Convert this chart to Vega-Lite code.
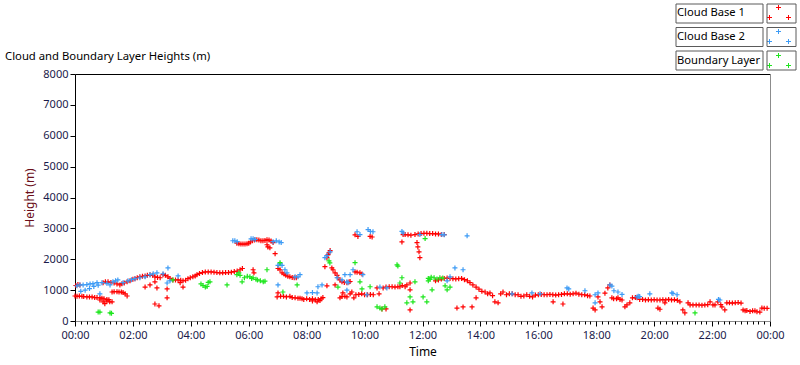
{
  "$schema": "https://vega.github.io/schema/vega-lite/v6.json",
  "width": 695,
  "height": 247,
  "autosize": {"type": "none"},
  "padding": {"left": 75, "top": 74, "right": 30, "bottom": 44},
  "background": "white",
  "title": {"text": "Cloud and Boundary Layer Heights (m)", "anchor": "start", "frame": "group", "dx": -70, "dy": 71, "offset": 12, "font": "Noto Sans", "fontSize": 11.3, "fontWeight": "normal", "color": "#000000"},
  "datasets": {
    "pts": [
      {"t":0.00,"h":810,"s":"Cloud Base 1"},{"t":0.07,"h":800,"s":"Cloud Base 1"},{"t":0.15,"h":810,"s":"Cloud Base 1"},{"t":0.24,"h":800,"s":"Cloud Base 1"},{"t":0.30,"h":790,"s":"Cloud Base 1"},{"t":0.41,"h":780,"s":"Cloud Base 1"},{"t":0.50,"h":780,"s":"Cloud Base 1"},{"t":0.59,"h":780,"s":"Cloud Base 1"},{"t":0.68,"h":760,"s":"Cloud Base 1"},{"t":0.76,"h":760,"s":"Cloud Base 1"},{"t":0.86,"h":750,"s":"Cloud Base 1"},{"t":0.93,"h":740,"s":"Cloud Base 1"},{"t":1.00,"h":720,"s":"Cloud Base 1"},{"t":1.10,"h":700,"s":"Cloud Base 1"},{"t":1.17,"h":690,"s":"Cloud Base 1"},{"t":0.86,"h":680,"s":"Cloud Base 1"},{"t":0.97,"h":620,"s":"Cloud Base 1"},{"t":1.03,"h":560,"s":"Cloud Base 1"},{"t":1.10,"h":650,"s":"Cloud Base 1"},{"t":1.20,"h":620,"s":"Cloud Base 1"},{"t":1.28,"h":620,"s":"Cloud Base 1"},
      {"t":0.03,"h":1150,"s":"Cloud Base 1"},{"t":0.10,"h":1180,"s":"Cloud Base 1"},{"t":0.17,"h":1170,"s":"Cloud Base 1"},
      {"t":1.28,"h":940,"s":"Cloud Base 1"},{"t":1.35,"h":950,"s":"Cloud Base 1"},{"t":1.45,"h":950,"s":"Cloud Base 1"},{"t":1.52,"h":940,"s":"Cloud Base 1"},{"t":1.60,"h":940,"s":"Cloud Base 1"},{"t":1.66,"h":920,"s":"Cloud Base 1"},{"t":1.73,"h":880,"s":"Cloud Base 1"},{"t":1.80,"h":810,"s":"Cloud Base 1"},
      {"t":0.97,"h":1240,"s":"Cloud Base 1"},{"t":1.05,"h":1270,"s":"Cloud Base 1"},{"t":1.14,"h":1270,"s":"Cloud Base 1"},{"t":1.24,"h":1250,"s":"Cloud Base 1"},{"t":1.35,"h":1230,"s":"Cloud Base 1"},{"t":1.45,"h":1200,"s":"Cloud Base 1"},{"t":1.55,"h":1170,"s":"Cloud Base 1"},{"t":1.62,"h":1210,"s":"Cloud Base 1"},{"t":1.70,"h":1230,"s":"Cloud Base 1"},{"t":1.80,"h":1270,"s":"Cloud Base 1"},{"t":1.90,"h":1300,"s":"Cloud Base 1"},{"t":2.00,"h":1350,"s":"Cloud Base 1"},{"t":2.07,"h":1370,"s":"Cloud Base 1"},{"t":2.15,"h":1400,"s":"Cloud Base 1"},{"t":2.24,"h":1430,"s":"Cloud Base 1"},{"t":2.33,"h":1450,"s":"Cloud Base 1"},{"t":2.42,"h":1460,"s":"Cloud Base 1"},{"t":2.50,"h":1480,"s":"Cloud Base 1"},{"t":2.59,"h":1500,"s":"Cloud Base 1"},{"t":2.68,"h":1480,"s":"Cloud Base 1"},{"t":2.76,"h":1430,"s":"Cloud Base 1"},{"t":2.85,"h":1410,"s":"Cloud Base 1"},{"t":2.94,"h":1400,"s":"Cloud Base 1"},
      {"t":2.42,"h":1100,"s":"Cloud Base 1"},{"t":2.59,"h":1170,"s":"Cloud Base 1"},{"t":2.76,"h":1270,"s":"Cloud Base 1"},{"t":2.83,"h":1070,"s":"Cloud Base 1"},{"t":2.76,"h":550,"s":"Cloud Base 1"},{"t":2.90,"h":490,"s":"Cloud Base 1"},{"t":3.18,"h":750,"s":"Cloud Base 1"},{"t":3.18,"h":1040,"s":"Cloud Base 1"},
      {"t":3.04,"h":1500,"s":"Cloud Base 1"},{"t":3.12,"h":1480,"s":"Cloud Base 1"},{"t":3.21,"h":1430,"s":"Cloud Base 1"},{"t":3.28,"h":1380,"s":"Cloud Base 1"},{"t":3.38,"h":1330,"s":"Cloud Base 1"},{"t":3.47,"h":1330,"s":"Cloud Base 1"},{"t":3.56,"h":1330,"s":"Cloud Base 1"},{"t":3.65,"h":1320,"s":"Cloud Base 1"},{"t":3.73,"h":1300,"s":"Cloud Base 1"},{"t":3.82,"h":1320,"s":"Cloud Base 1"},{"t":3.90,"h":1370,"s":"Cloud Base 1"},{"t":3.98,"h":1400,"s":"Cloud Base 1"},{"t":4.07,"h":1430,"s":"Cloud Base 1"},{"t":4.15,"h":1460,"s":"Cloud Base 1"},{"t":4.21,"h":1500,"s":"Cloud Base 1"},{"t":4.30,"h":1540,"s":"Cloud Base 1"},{"t":4.40,"h":1570,"s":"Cloud Base 1"},{"t":4.50,"h":1590,"s":"Cloud Base 1"},{"t":4.60,"h":1590,"s":"Cloud Base 1"},{"t":4.70,"h":1590,"s":"Cloud Base 1"},{"t":4.80,"h":1580,"s":"Cloud Base 1"},{"t":4.90,"h":1570,"s":"Cloud Base 1"},{"t":5.00,"h":1560,"s":"Cloud Base 1"},{"t":5.10,"h":1560,"s":"Cloud Base 1"},{"t":5.20,"h":1570,"s":"Cloud Base 1"},{"t":5.30,"h":1570,"s":"Cloud Base 1"},{"t":5.40,"h":1580,"s":"Cloud Base 1"},{"t":5.50,"h":1600,"s":"Cloud Base 1"},{"t":5.60,"h":1620,"s":"Cloud Base 1"},{"t":5.70,"h":1660,"s":"Cloud Base 1"},{"t":5.78,"h":1700,"s":"Cloud Base 1"},{"t":3.63,"h":1240,"s":"Cloud Base 1"},{"t":3.73,"h":1100,"s":"Cloud Base 1"},
      {"t":5.59,"h":2520,"s":"Cloud Base 1"},{"t":5.66,"h":2500,"s":"Cloud Base 1"},{"t":5.73,"h":2490,"s":"Cloud Base 1"},{"t":5.80,"h":2490,"s":"Cloud Base 1"},{"t":5.87,"h":2490,"s":"Cloud Base 1"},{"t":5.94,"h":2500,"s":"Cloud Base 1"},{"t":6.00,"h":2520,"s":"Cloud Base 1"},{"t":6.06,"h":2560,"s":"Cloud Base 1"},{"t":6.13,"h":2600,"s":"Cloud Base 1"},{"t":6.20,"h":2620,"s":"Cloud Base 1"},{"t":6.28,"h":2630,"s":"Cloud Base 1"},{"t":6.35,"h":2620,"s":"Cloud Base 1"},{"t":6.42,"h":2600,"s":"Cloud Base 1"},{"t":6.49,"h":2600,"s":"Cloud Base 1"},{"t":6.56,"h":2610,"s":"Cloud Base 1"},{"t":6.63,"h":2630,"s":"Cloud Base 1"},{"t":6.70,"h":2620,"s":"Cloud Base 1"},{"t":6.77,"h":2590,"s":"Cloud Base 1"},{"t":6.84,"h":2540,"s":"Cloud Base 1"},{"t":6.63,"h":2470,"s":"Cloud Base 1"},{"t":6.66,"h":2400,"s":"Cloud Base 1"},{"t":6.73,"h":2370,"s":"Cloud Base 1"},{"t":6.91,"h":2180,"s":"Cloud Base 1"},{"t":6.15,"h":1660,"s":"Cloud Base 1"},{"t":6.18,"h":1560,"s":"Cloud Base 1"},
      {"t":7.01,"h":1700,"s":"Cloud Base 1"},{"t":7.08,"h":1660,"s":"Cloud Base 1"},{"t":7.15,"h":1560,"s":"Cloud Base 1"},{"t":7.22,"h":1520,"s":"Cloud Base 1"},{"t":7.28,"h":1480,"s":"Cloud Base 1"},{"t":7.35,"h":1450,"s":"Cloud Base 1"},{"t":7.42,"h":1430,"s":"Cloud Base 1"},{"t":7.50,"h":1410,"s":"Cloud Base 1"},{"t":7.57,"h":1400,"s":"Cloud Base 1"},{"t":7.64,"h":1400,"s":"Cloud Base 1"},
      {"t":6.98,"h":780,"s":"Cloud Base 1"},{"t":7.01,"h":910,"s":"Cloud Base 1"},{"t":7.10,"h":800,"s":"Cloud Base 1"},{"t":7.20,"h":800,"s":"Cloud Base 1"},{"t":7.30,"h":780,"s":"Cloud Base 1"},{"t":7.42,"h":800,"s":"Cloud Base 1"},{"t":7.50,"h":760,"s":"Cloud Base 1"},{"t":7.60,"h":750,"s":"Cloud Base 1"},{"t":7.70,"h":740,"s":"Cloud Base 1"},{"t":7.77,"h":740,"s":"Cloud Base 1"},{"t":7.84,"h":720,"s":"Cloud Base 1"},{"t":7.90,"h":700,"s":"Cloud Base 1"},{"t":8.00,"h":720,"s":"Cloud Base 1"},{"t":8.10,"h":700,"s":"Cloud Base 1"},{"t":8.20,"h":720,"s":"Cloud Base 1"},{"t":8.30,"h":690,"s":"Cloud Base 1"},{"t":8.40,"h":700,"s":"Cloud Base 1"},{"t":8.50,"h":720,"s":"Cloud Base 1"},{"t":8.56,"h":760,"s":"Cloud Base 1"},{"t":8.20,"h":650,"s":"Cloud Base 1"},{"t":8.36,"h":620,"s":"Cloud Base 1"},{"t":8.46,"h":660,"s":"Cloud Base 1"},
      {"t":8.63,"h":1760,"s":"Cloud Base 1"},{"t":8.70,"h":2050,"s":"Cloud Base 1"},{"t":8.74,"h":2150,"s":"Cloud Base 1"},{"t":8.77,"h":2210,"s":"Cloud Base 1"},{"t":8.81,"h":2280,"s":"Cloud Base 1"},{"t":8.87,"h":1720,"s":"Cloud Base 1"},{"t":8.91,"h":1660,"s":"Cloud Base 1"},{"t":8.98,"h":1560,"s":"Cloud Base 1"},{"t":9.05,"h":1480,"s":"Cloud Base 1"},{"t":9.08,"h":1400,"s":"Cloud Base 1"},{"t":9.15,"h":1330,"s":"Cloud Base 1"},{"t":9.22,"h":1270,"s":"Cloud Base 1"},{"t":9.30,"h":1250,"s":"Cloud Base 1"},{"t":9.39,"h":1240,"s":"Cloud Base 1"},{"t":9.46,"h":1260,"s":"Cloud Base 1"},{"t":9.50,"h":1280,"s":"Cloud Base 1"},{"t":9.67,"h":1590,"s":"Cloud Base 1"},{"t":9.74,"h":1580,"s":"Cloud Base 1"},{"t":9.84,"h":1560,"s":"Cloud Base 1"},{"t":9.91,"h":1520,"s":"Cloud Base 1"},{"t":8.70,"h":1140,"s":"Cloud Base 1"},{"t":8.98,"h":1170,"s":"Cloud Base 1"},
      {"t":9.15,"h":750,"s":"Cloud Base 1"},{"t":9.22,"h":790,"s":"Cloud Base 1"},{"t":9.25,"h":910,"s":"Cloud Base 1"},{"t":9.32,"h":800,"s":"Cloud Base 1"},{"t":9.39,"h":780,"s":"Cloud Base 1"},{"t":9.50,"h":880,"s":"Cloud Base 1"},{"t":9.56,"h":940,"s":"Cloud Base 1"},{"t":9.63,"h":750,"s":"Cloud Base 1"},{"t":9.70,"h":850,"s":"Cloud Base 1"},{"t":9.80,"h":860,"s":"Cloud Base 1"},{"t":9.90,"h":880,"s":"Cloud Base 1"},{"t":10.00,"h":850,"s":"Cloud Base 1"},{"t":10.10,"h":850,"s":"Cloud Base 1"},{"t":10.20,"h":860,"s":"Cloud Base 1"},{"t":10.30,"h":850,"s":"Cloud Base 1"},{"t":10.43,"h":1070,"s":"Cloud Base 1"},{"t":10.50,"h":880,"s":"Cloud Base 1"},{"t":10.64,"h":1070,"s":"Cloud Base 1"},{"t":10.74,"h":1100,"s":"Cloud Base 1"},{"t":10.85,"h":1110,"s":"Cloud Base 1"},{"t":10.95,"h":1110,"s":"Cloud Base 1"},{"t":11.05,"h":1100,"s":"Cloud Base 1"},{"t":11.15,"h":1110,"s":"Cloud Base 1"},{"t":11.22,"h":1110,"s":"Cloud Base 1"},{"t":11.30,"h":1150,"s":"Cloud Base 1"},{"t":11.40,"h":1110,"s":"Cloud Base 1"},{"t":11.46,"h":1170,"s":"Cloud Base 1"},{"t":11.57,"h":1230,"s":"Cloud Base 1"},{"t":11.57,"h":1010,"s":"Cloud Base 1"},{"t":10.60,"h":390,"s":"Cloud Base 1"},{"t":10.74,"h":390,"s":"Cloud Base 1"},{"t":11.57,"h":360,"s":"Cloud Base 1"},
      {"t":9.67,"h":2790,"s":"Cloud Base 1"},{"t":9.77,"h":2740,"s":"Cloud Base 1"},{"t":10.19,"h":2740,"s":"Cloud Base 1"},{"t":10.26,"h":2720,"s":"Cloud Base 1"},
      {"t":11.29,"h":2560,"s":"Cloud Base 1"},{"t":11.33,"h":2800,"s":"Cloud Base 1"},{"t":11.40,"h":2800,"s":"Cloud Base 1"},{"t":11.50,"h":2790,"s":"Cloud Base 1"},{"t":11.60,"h":2780,"s":"Cloud Base 1"},{"t":11.74,"h":2800,"s":"Cloud Base 1"},{"t":11.85,"h":2820,"s":"Cloud Base 1"},{"t":11.95,"h":2830,"s":"Cloud Base 1"},{"t":12.05,"h":2840,"s":"Cloud Base 1"},{"t":12.15,"h":2840,"s":"Cloud Base 1"},{"t":12.25,"h":2830,"s":"Cloud Base 1"},{"t":12.35,"h":2830,"s":"Cloud Base 1"},{"t":12.45,"h":2820,"s":"Cloud Base 1"},{"t":12.55,"h":2820,"s":"Cloud Base 1"},{"t":12.65,"h":2800,"s":"Cloud Base 1"},{"t":12.75,"h":2800,"s":"Cloud Base 1"},{"t":11.81,"h":2540,"s":"Cloud Base 1"},{"t":11.84,"h":2400,"s":"Cloud Base 1"},{"t":11.88,"h":2240,"s":"Cloud Base 1"},{"t":11.91,"h":2050,"s":"Cloud Base 1"},
      {"t":12.45,"h":1300,"s":"Cloud Base 1"},{"t":12.55,"h":1330,"s":"Cloud Base 1"},{"t":12.65,"h":1360,"s":"Cloud Base 1"},{"t":12.75,"h":1380,"s":"Cloud Base 1"},{"t":12.85,"h":1390,"s":"Cloud Base 1"},{"t":12.95,"h":1380,"s":"Cloud Base 1"},{"t":13.05,"h":1370,"s":"Cloud Base 1"},{"t":13.15,"h":1360,"s":"Cloud Base 1"},{"t":13.25,"h":1370,"s":"Cloud Base 1"},{"t":13.35,"h":1380,"s":"Cloud Base 1"},{"t":13.45,"h":1340,"s":"Cloud Base 1"},{"t":13.55,"h":1300,"s":"Cloud Base 1"},{"t":13.64,"h":1240,"s":"Cloud Base 1"},{"t":13.74,"h":1170,"s":"Cloud Base 1"},{"t":13.85,"h":1100,"s":"Cloud Base 1"},{"t":13.95,"h":1030,"s":"Cloud Base 1"},{"t":14.05,"h":960,"s":"Cloud Base 1"},{"t":14.16,"h":940,"s":"Cloud Base 1"},{"t":14.25,"h":880,"s":"Cloud Base 1"},{"t":14.33,"h":910,"s":"Cloud Base 1"},{"t":14.42,"h":820,"s":"Cloud Base 1"},{"t":14.50,"h":620,"s":"Cloud Base 1"},{"t":14.61,"h":590,"s":"Cloud Base 1"},{"t":14.70,"h":880,"s":"Cloud Base 1"},{"t":14.78,"h":940,"s":"Cloud Base 1"},{"t":14.90,"h":850,"s":"Cloud Base 1"},{"t":15.00,"h":880,"s":"Cloud Base 1"},{"t":13.19,"h":420,"s":"Cloud Base 1"},{"t":13.40,"h":455,"s":"Cloud Base 1"},{"t":13.71,"h":455,"s":"Cloud Base 1"},{"t":13.85,"h":750,"s":"Cloud Base 1"},
      {"t":15.10,"h":880,"s":"Cloud Base 1"},{"t":15.20,"h":850,"s":"Cloud Base 1"},{"t":15.30,"h":850,"s":"Cloud Base 1"},{"t":15.40,"h":800,"s":"Cloud Base 1"},{"t":15.50,"h":810,"s":"Cloud Base 1"},{"t":15.60,"h":850,"s":"Cloud Base 1"},{"t":15.70,"h":800,"s":"Cloud Base 1"},{"t":15.80,"h":780,"s":"Cloud Base 1"},{"t":15.90,"h":840,"s":"Cloud Base 1"},{"t":16.00,"h":850,"s":"Cloud Base 1"},{"t":16.10,"h":860,"s":"Cloud Base 1"},{"t":16.20,"h":850,"s":"Cloud Base 1"},{"t":16.30,"h":850,"s":"Cloud Base 1"},{"t":16.40,"h":860,"s":"Cloud Base 1"},{"t":16.50,"h":850,"s":"Cloud Base 1"},{"t":16.51,"h":620,"s":"Cloud Base 1"},{"t":16.60,"h":840,"s":"Cloud Base 1"},{"t":16.70,"h":850,"s":"Cloud Base 1"},{"t":16.80,"h":860,"s":"Cloud Base 1"},{"t":16.85,"h":550,"s":"Cloud Base 1"},{"t":16.90,"h":880,"s":"Cloud Base 1"},{"t":17.00,"h":880,"s":"Cloud Base 1"},{"t":17.10,"h":870,"s":"Cloud Base 1"},{"t":17.20,"h":880,"s":"Cloud Base 1"},{"t":17.30,"h":900,"s":"Cloud Base 1"},{"t":17.40,"h":870,"s":"Cloud Base 1"},{"t":17.50,"h":850,"s":"Cloud Base 1"},{"t":17.60,"h":850,"s":"Cloud Base 1"},{"t":17.70,"h":820,"s":"Cloud Base 1"},{"t":17.78,"h":810,"s":"Cloud Base 1"},
      {"t":17.89,"h":420,"s":"Cloud Base 1"},{"t":17.96,"h":360,"s":"Cloud Base 1"},{"t":18.06,"h":780,"s":"Cloud Base 1"},{"t":18.13,"h":620,"s":"Cloud Base 1"},{"t":18.20,"h":460,"s":"Cloud Base 1"},{"t":18.30,"h":900,"s":"Cloud Base 1"},{"t":18.40,"h":1070,"s":"Cloud Base 1"},{"t":18.47,"h":1170,"s":"Cloud Base 1"},{"t":18.54,"h":750,"s":"Cloud Base 1"},{"t":18.60,"h":720,"s":"Cloud Base 1"},{"t":18.70,"h":720,"s":"Cloud Base 1"},{"t":18.75,"h":750,"s":"Cloud Base 1"},{"t":18.82,"h":700,"s":"Cloud Base 1"},{"t":18.89,"h":680,"s":"Cloud Base 1"},{"t":18.99,"h":460,"s":"Cloud Base 1"},{"t":19.06,"h":520,"s":"Cloud Base 1"},{"t":19.16,"h":590,"s":"Cloud Base 1"},{"t":19.25,"h":750,"s":"Cloud Base 1"},{"t":19.35,"h":760,"s":"Cloud Base 1"},{"t":19.41,"h":750,"s":"Cloud Base 1"},{"t":19.50,"h":700,"s":"Cloud Base 1"},{"t":19.60,"h":700,"s":"Cloud Base 1"},{"t":19.70,"h":680,"s":"Cloud Base 1"},{"t":19.80,"h":690,"s":"Cloud Base 1"},{"t":19.90,"h":680,"s":"Cloud Base 1"},{"t":20.00,"h":690,"s":"Cloud Base 1"},{"t":20.10,"h":680,"s":"Cloud Base 1"},{"t":20.20,"h":680,"s":"Cloud Base 1"},{"t":20.30,"h":690,"s":"Cloud Base 1"},{"t":20.40,"h":680,"s":"Cloud Base 1"},{"t":20.50,"h":700,"s":"Cloud Base 1"},{"t":20.60,"h":680,"s":"Cloud Base 1"},{"t":20.70,"h":690,"s":"Cloud Base 1"},{"t":20.80,"h":670,"s":"Cloud Base 1"},{"t":20.89,"h":620,"s":"Cloud Base 1"},{"t":20.99,"h":360,"s":"Cloud Base 1"},{"t":21.06,"h":260,"s":"Cloud Base 1"},{"t":21.17,"h":590,"s":"Cloud Base 1"},{"t":21.24,"h":520,"s":"Cloud Base 1"},{"t":21.34,"h":520,"s":"Cloud Base 1"},{"t":21.45,"h":520,"s":"Cloud Base 1"},{"t":21.55,"h":520,"s":"Cloud Base 1"},{"t":21.65,"h":510,"s":"Cloud Base 1"},{"t":21.75,"h":520,"s":"Cloud Base 1"},{"t":21.85,"h":530,"s":"Cloud Base 1"},{"t":21.93,"h":620,"s":"Cloud Base 1"},{"t":22.03,"h":520,"s":"Cloud Base 1"},{"t":22.10,"h":520,"s":"Cloud Base 1"},{"t":22.20,"h":620,"s":"Cloud Base 1"},{"t":22.30,"h":530,"s":"Cloud Base 1"},{"t":22.34,"h":460,"s":"Cloud Base 1"},{"t":22.44,"h":360,"s":"Cloud Base 1"},{"t":22.51,"h":590,"s":"Cloud Base 1"},{"t":22.60,"h":590,"s":"Cloud Base 1"},{"t":22.70,"h":580,"s":"Cloud Base 1"},{"t":22.80,"h":590,"s":"Cloud Base 1"},{"t":22.90,"h":600,"s":"Cloud Base 1"},{"t":23.00,"h":580,"s":"Cloud Base 1"},{"t":23.07,"h":360,"s":"Cloud Base 1"},{"t":23.14,"h":330,"s":"Cloud Base 1"},{"t":23.20,"h":340,"s":"Cloud Base 1"},{"t":23.31,"h":310,"s":"Cloud Base 1"},{"t":23.40,"h":330,"s":"Cloud Base 1"},{"t":23.48,"h":330,"s":"Cloud Base 1"},{"t":23.55,"h":300,"s":"Cloud Base 1"},{"t":23.65,"h":290,"s":"Cloud Base 1"},{"t":23.72,"h":420,"s":"Cloud Base 1"},{"t":23.80,"h":410,"s":"Cloud Base 1"},{"t":23.90,"h":410,"s":"Cloud Base 1"},{"t":20.13,"h":420,"s":"Cloud Base 1"},{"t":20.20,"h":380,"s":"Cloud Base 1"},{"t":20.37,"h":590,"s":"Cloud Base 1"},

      {"t":0.07,"h":1140,"s":"Cloud Base 2"},{"t":0.17,"h":1170,"s":"Cloud Base 2"},{"t":0.28,"h":1170,"s":"Cloud Base 2"},{"t":0.41,"h":1180,"s":"Cloud Base 2"},{"t":0.52,"h":1200,"s":"Cloud Base 2"},{"t":0.62,"h":1210,"s":"Cloud Base 2"},{"t":0.76,"h":1240,"s":"Cloud Base 2"},{"t":0.93,"h":1240,"s":"Cloud Base 2"},{"t":1.10,"h":1220,"s":"Cloud Base 2"},{"t":1.21,"h":1170,"s":"Cloud Base 2"},{"t":1.31,"h":1270,"s":"Cloud Base 2"},{"t":1.40,"h":1300,"s":"Cloud Base 2"},{"t":1.48,"h":1330,"s":"Cloud Base 2"},{"t":1.66,"h":1240,"s":"Cloud Base 2"},{"t":1.83,"h":1300,"s":"Cloud Base 2"},{"t":1.95,"h":1340,"s":"Cloud Base 2"},{"t":2.07,"h":1370,"s":"Cloud Base 2"},{"t":2.24,"h":1400,"s":"Cloud Base 2"},{"t":2.42,"h":1430,"s":"Cloud Base 2"},{"t":2.59,"h":1500,"s":"Cloud Base 2"},{"t":2.70,"h":1530,"s":"Cloud Base 2"},{"t":2.83,"h":1560,"s":"Cloud Base 2"},{"t":0.20,"h":960,"s":"Cloud Base 2"},{"t":0.35,"h":1000,"s":"Cloud Base 2"},{"t":0.50,"h":1050,"s":"Cloud Base 2"},{"t":0.65,"h":1120,"s":"Cloud Base 2"},{"t":0.80,"h":1160,"s":"Cloud Base 2"},{"t":0.86,"h":880,"s":"Cloud Base 2"},
      {"t":3.04,"h":1530,"s":"Cloud Base 2"},{"t":3.18,"h":1230,"s":"Cloud Base 2"},{"t":3.21,"h":1720,"s":"Cloud Base 2"},{"t":3.28,"h":1300,"s":"Cloud Base 2"},{"t":3.56,"h":1460,"s":"Cloud Base 2"},
      {"t":5.45,"h":2600,"s":"Cloud Base 2"},{"t":5.52,"h":2600,"s":"Cloud Base 2"},{"t":5.60,"h":2570,"s":"Cloud Base 2"},{"t":6.08,"h":2660,"s":"Cloud Base 2"},{"t":6.15,"h":2660,"s":"Cloud Base 2"},{"t":6.22,"h":2640,"s":"Cloud Base 2"},{"t":6.84,"h":2570,"s":"Cloud Base 2"},{"t":6.95,"h":2600,"s":"Cloud Base 2"},{"t":7.05,"h":2560,"s":"Cloud Base 2"},{"t":7.12,"h":2540,"s":"Cloud Base 2"},
      {"t":7.01,"h":1800,"s":"Cloud Base 2"},{"t":7.08,"h":1850,"s":"Cloud Base 2"},{"t":7.15,"h":1800,"s":"Cloud Base 2"},{"t":7.25,"h":1660,"s":"Cloud Base 2"},{"t":7.32,"h":1560,"s":"Cloud Base 2"},{"t":7.60,"h":1430,"s":"Cloud Base 2"},{"t":7.70,"h":1430,"s":"Cloud Base 2"},{"t":7.01,"h":1170,"s":"Cloud Base 2"},{"t":7.77,"h":1500,"s":"Cloud Base 2"},
      {"t":8.01,"h":910,"s":"Cloud Base 2"},{"t":8.20,"h":920,"s":"Cloud Base 2"},{"t":8.36,"h":910,"s":"Cloud Base 2"},{"t":8.39,"h":1110,"s":"Cloud Base 2"},{"t":8.53,"h":1170,"s":"Cloud Base 2"},{"t":8.63,"h":2050,"s":"Cloud Base 2"},{"t":8.70,"h":2120,"s":"Cloud Base 2"},{"t":8.81,"h":2240,"s":"Cloud Base 2"},
      {"t":9.05,"h":1400,"s":"Cloud Base 2"},{"t":9.22,"h":1330,"s":"Cloud Base 2"},{"t":9.32,"h":1500,"s":"Cloud Base 2"},{"t":9.39,"h":1270,"s":"Cloud Base 2"},{"t":9.50,"h":1500,"s":"Cloud Base 2"},{"t":9.60,"h":1660,"s":"Cloud Base 2"},{"t":9.94,"h":1500,"s":"Cloud Base 2"},{"t":9.43,"h":1240,"s":"Cloud Base 2"},{"t":9.39,"h":1000,"s":"Cloud Base 2"},{"t":10.08,"h":850,"s":"Cloud Base 2"},{"t":10.53,"h":1100,"s":"Cloud Base 2"},{"t":10.77,"h":1070,"s":"Cloud Base 2"},
      {"t":9.74,"h":2890,"s":"Cloud Base 2"},{"t":9.84,"h":2800,"s":"Cloud Base 2"},{"t":10.12,"h":2960,"s":"Cloud Base 2"},{"t":10.20,"h":2900,"s":"Cloud Base 2"},{"t":10.29,"h":2890,"s":"Cloud Base 2"},{"t":11.29,"h":2900,"s":"Cloud Base 2"},{"t":11.33,"h":2850,"s":"Cloud Base 2"},{"t":11.91,"h":2800,"s":"Cloud Base 2"},{"t":12.67,"h":2800,"s":"Cloud Base 2"},{"t":12.75,"h":2790,"s":"Cloud Base 2"},{"t":13.54,"h":2760,"s":"Cloud Base 2"},
      {"t":12.95,"h":1430,"s":"Cloud Base 2"},{"t":13.12,"h":1720,"s":"Cloud Base 2"},{"t":13.40,"h":1660,"s":"Cloud Base 2"},{"t":12.85,"h":1300,"s":"Cloud Base 2"},
      {"t":15.09,"h":880,"s":"Cloud Base 2"},{"t":15.78,"h":910,"s":"Cloud Base 2"},{"t":16.06,"h":880,"s":"Cloud Base 2"},{"t":16.99,"h":1070,"s":"Cloud Base 2"},{"t":17.05,"h":1040,"s":"Cloud Base 2"},{"t":17.61,"h":980,"s":"Cloud Base 2"},{"t":17.96,"h":850,"s":"Cloud Base 2"},{"t":18.06,"h":910,"s":"Cloud Base 2"},{"t":17.96,"h":590,"s":"Cloud Base 2"},{"t":18.47,"h":1170,"s":"Cloud Base 2"},{"t":18.54,"h":1130,"s":"Cloud Base 2"},{"t":18.61,"h":980,"s":"Cloud Base 2"},{"t":18.75,"h":940,"s":"Cloud Base 2"},{"t":18.89,"h":860,"s":"Cloud Base 2"},{"t":19.41,"h":780,"s":"Cloud Base 2"},{"t":19.45,"h":800,"s":"Cloud Base 2"},{"t":19.50,"h":790,"s":"Cloud Base 2"},{"t":19.85,"h":880,"s":"Cloud Base 2"},{"t":20.61,"h":910,"s":"Cloud Base 2"},{"t":20.65,"h":890,"s":"Cloud Base 2"},{"t":20.79,"h":850,"s":"Cloud Base 2"},{"t":22.27,"h":680,"s":"Cloud Base 2"},{"t":22.22,"h":700,"s":"Cloud Base 2"},

      {"t":0.80,"h":290,"s":"Boundary Layer"},{"t":0.86,"h":290,"s":"Boundary Layer"},{"t":1.21,"h":260,"s":"Boundary Layer"},{"t":1.26,"h":250,"s":"Boundary Layer"},{"t":3.38,"h":1330,"s":"Boundary Layer"},{"t":4.35,"h":1200,"s":"Boundary Layer"},{"t":4.42,"h":1150,"s":"Boundary Layer"},{"t":4.50,"h":1100,"s":"Boundary Layer"},{"t":4.56,"h":1120,"s":"Boundary Layer"},{"t":4.60,"h":1250,"s":"Boundary Layer"},{"t":4.66,"h":1270,"s":"Boundary Layer"},{"t":5.25,"h":1170,"s":"Boundary Layer"},{"t":5.59,"h":1500,"s":"Boundary Layer"},{"t":5.66,"h":1560,"s":"Boundary Layer"},{"t":5.70,"h":1480,"s":"Boundary Layer"},{"t":5.77,"h":1270,"s":"Boundary Layer"},{"t":5.85,"h":1400,"s":"Boundary Layer"},{"t":5.95,"h":1450,"s":"Boundary Layer"},{"t":6.04,"h":1430,"s":"Boundary Layer"},{"t":6.10,"h":1380,"s":"Boundary Layer"},{"t":6.15,"h":1400,"s":"Boundary Layer"},{"t":6.25,"h":1350,"s":"Boundary Layer"},{"t":6.30,"h":1330,"s":"Boundary Layer"},{"t":6.40,"h":1300,"s":"Boundary Layer"},{"t":6.50,"h":1270,"s":"Boundary Layer"},{"t":6.56,"h":1290,"s":"Boundary Layer"},{"t":6.63,"h":1660,"s":"Boundary Layer"},{"t":7.08,"h":1890,"s":"Boundary Layer"},{"t":7.18,"h":940,"s":"Boundary Layer"},{"t":7.67,"h":1170,"s":"Boundary Layer"},
      {"t":8.77,"h":1950,"s":"Boundary Layer"},{"t":8.80,"h":1880,"s":"Boundary Layer"},{"t":9.08,"h":1100,"s":"Boundary Layer"},{"t":9.67,"h":1890,"s":"Boundary Layer"},{"t":9.84,"h":1270,"s":"Boundary Layer"},{"t":9.91,"h":1040,"s":"Boundary Layer"},{"t":10.19,"h":1110,"s":"Boundary Layer"},{"t":10.43,"h":460,"s":"Boundary Layer"},{"t":10.53,"h":420,"s":"Boundary Layer"},{"t":10.60,"h":390,"s":"Boundary Layer"},{"t":10.70,"h":460,"s":"Boundary Layer"},{"t":11.12,"h":1820,"s":"Boundary Layer"},{"t":11.15,"h":1780,"s":"Boundary Layer"},{"t":11.22,"h":1230,"s":"Boundary Layer"},{"t":11.29,"h":1400,"s":"Boundary Layer"},{"t":11.46,"h":590,"s":"Boundary Layer"},{"t":11.57,"h":780,"s":"Boundary Layer"},{"t":11.67,"h":620,"s":"Boundary Layer"},{"t":11.74,"h":1270,"s":"Boundary Layer"},{"t":12.02,"h":780,"s":"Boundary Layer"},{"t":12.09,"h":2670,"s":"Boundary Layer"},{"t":12.15,"h":620,"s":"Boundary Layer"},{"t":12.20,"h":1380,"s":"Boundary Layer"},{"t":12.26,"h":1350,"s":"Boundary Layer"},{"t":12.33,"h":1010,"s":"Boundary Layer"},{"t":12.40,"h":1400,"s":"Boundary Layer"},{"t":12.50,"h":1360,"s":"Boundary Layer"},{"t":12.60,"h":1400,"s":"Boundary Layer"},{"t":12.70,"h":1390,"s":"Boundary Layer"},{"t":12.78,"h":1140,"s":"Boundary Layer"},{"t":12.85,"h":1010,"s":"Boundary Layer"},{"t":12.95,"h":1100,"s":"Boundary Layer"},{"t":12.20,"h":1300,"s":"Boundary Layer"},{"t":12.30,"h":1420,"s":"Boundary Layer"},{"t":21.41,"h":260,"s":"Boundary Layer"}
    ]
  },
  "data": {"name": "pts"},
  "layer": [
    {
      "mark": {"type": "point", "shape": "M-1,-0.24H1V0.24H-1ZM-0.24,-1H0.24V1H-0.24Z", "filled": true, "size": 25, "opacity": 1, "strokeWidth": 0},
      "encoding": {
        "x": {"field": "t", "type": "quantitative", "scale": {"domain": [0, 24], "nice": false, "zero": false},
          "axis": {"orient": "bottom", "values": [0, 2, 4, 6, 8, 10, 12, 14, 16, 18, 20, 22, 24],
            "labelExpr": "datum.value == 24 ? '00:00' : (datum.value < 10 ? '0' + datum.value : '' + datum.value) + ':00'",
            "title": "Time", "grid": false, "tickSize": 5, "tickColor": "#000000", "domainColor": "#8c8c8c",
            "labelFont": "Noto Sans", "labelFontSize": 11, "labelColor": "#1a1a4a", "labelPadding": 3, "labelFlush": false, "labelOverlap": false,
            "titleFont": "Noto Sans", "titleFontSize": 12, "titleFontWeight": "normal", "titleColor": "#000000", "titlePadding": 6}},
        "y": {"field": "h", "type": "quantitative", "scale": {"domain": [0, 8000], "nice": false},
          "axis": {"orient": "left", "values": [0, 1000, 2000, 3000, 4000, 5000, 6000, 7000, 8000], "format": "d", "grid": false,
            "tickSize": 5, "tickColor": "#000000", "domainColor": "#000000",
            "labelFont": "Noto Sans", "labelFontSize": 11, "labelColor": "#1a1a4a", "labelPadding": 2,
            "title": "Height (m)", "titleFont": "Noto Sans", "titleFontSize": 12, "titleFontWeight": "normal", "titleColor": "#6b0f1a", "titlePadding": 6}},
        "color": {"field": "s", "type": "nominal",
          "scale": {"domain": ["Cloud Base 1", "Cloud Base 2", "Boundary Layer"], "range": ["#ff0000", "#3d9bf5", "#1ee61e"]},
          "legend": {"orient": "none", "legendX": 696, "legendY": -71, "title": null, "padding": 0,
            "symbolType": "M-10.55,-0.95M1.45,0.95M-0.5,-0.6H0V-0.5H-0.5ZM-0.3,-0.8H-0.2V-0.3H-0.3ZM-1.4,0.4H-0.9V0.5H-1.4ZM-1.2,0.2H-1.1V0.7H-1.2ZM0.5,0.4H1V0.5H0.5ZM0.7,0.2H0.8V0.7H0.7Z",
            "symbolSize": 400, "symbolStrokeWidth": 0, "symbolOpacity": 1, "rowPadding": 4,
            "labelFont": "Noto Sans", "labelFontSize": 11.2, "labelColor": "#000000", "labelAlign": "left", "labelOffset": -114}}
      }
    },
    {
      "mark": {"type": "point", "opacity": 0, "filled": false},
      "encoding": {
        "x": {"field": "t", "type": "quantitative",
          "axis": {"orient": "bottom", "values": [0,0.2,0.4,0.6,0.8,1,1.2,1.4,1.6,1.8,2,2.2,2.4,2.6,2.8,3,3.2,3.4,3.6,3.8,4,4.2,4.4,4.6,4.8,5,5.2,5.4,5.6,5.8,6,6.2,6.4,6.6,6.8,7,7.2,7.4,7.6,7.8,8,8.2,8.4,8.6,8.8,9,9.2,9.4,9.6,9.8,10,10.2,10.4,10.6,10.8,11,11.2,11.4,11.6,11.8,12,12.2,12.4,12.6,12.8,13,13.2,13.4,13.6,13.8,14,14.2,14.4,14.6,14.8,15,15.2,15.4,15.6,15.8,16,16.2,16.4,16.6,16.8,17,17.2,17.4,17.6,17.8,18,18.2,18.4,18.6,18.8,19,19.2,19.4,19.6,19.8,20,20.2,20.4,20.6,20.8,21,21.2,21.4,21.6,21.8,22,22.2,22.4,22.6,22.8,23,23.2,23.4,23.6,23.8,24],
            "labels": false, "domain": false, "tickSize": 3, "tickColor": "#000000", "title": null, "grid": false}},
        "y": {"field": "h", "type": "quantitative",
          "axis": {"orient": "right", "domain": true, "domainColor": "#8c8c8c", "ticks": false, "labels": false, "title": null, "grid": false}},
        "shape": {"field": "s", "type": "nominal",
          "scale": {"range": ["M-10.55,-0.95H-1.85V0.95H-10.55ZM-1.45,-0.95H1.45V0.95H-1.45Z", "M-10.55,-0.95H-1.85V0.95H-10.55ZM-1.45,-0.95H1.45V0.95H-1.45Z", "M-10.55,-0.95H-1.85V0.95H-10.55ZM-1.45,-0.95H1.45V0.95H-1.45Z"]},
          "legend": {"orient": "none", "legendX": 696, "legendY": -71, "title": null, "padding": 0,
            "symbolSize": 400, "symbolStrokeWidth": 1, "symbolStrokeColor": "#5a5a5a", "symbolFillColor": "transparent", "symbolOpacity": 1, "rowPadding": 0.5,
            "labelFont": "Noto Sans", "labelFontSize": 1, "labelOffset": 0, "labelOpacity": 0, "labelExpr": "''"}}
      }
    },
    {
      "mark": {"type": "point", "opacity": 0},
      "encoding": {
        "x": {"field": "t", "type": "quantitative",
          "axis": {"orient": "top", "domain": true, "domainColor": "#000000", "ticks": false, "labels": false, "title": null, "grid": false}},
        "y": {"field": "h", "type": "quantitative", "axis": null}
      }
    }
  ],
  "resolve": {"axis": {"x": "independent", "y": "independent"}},
  "config": {"view": {"stroke": null}}
}
